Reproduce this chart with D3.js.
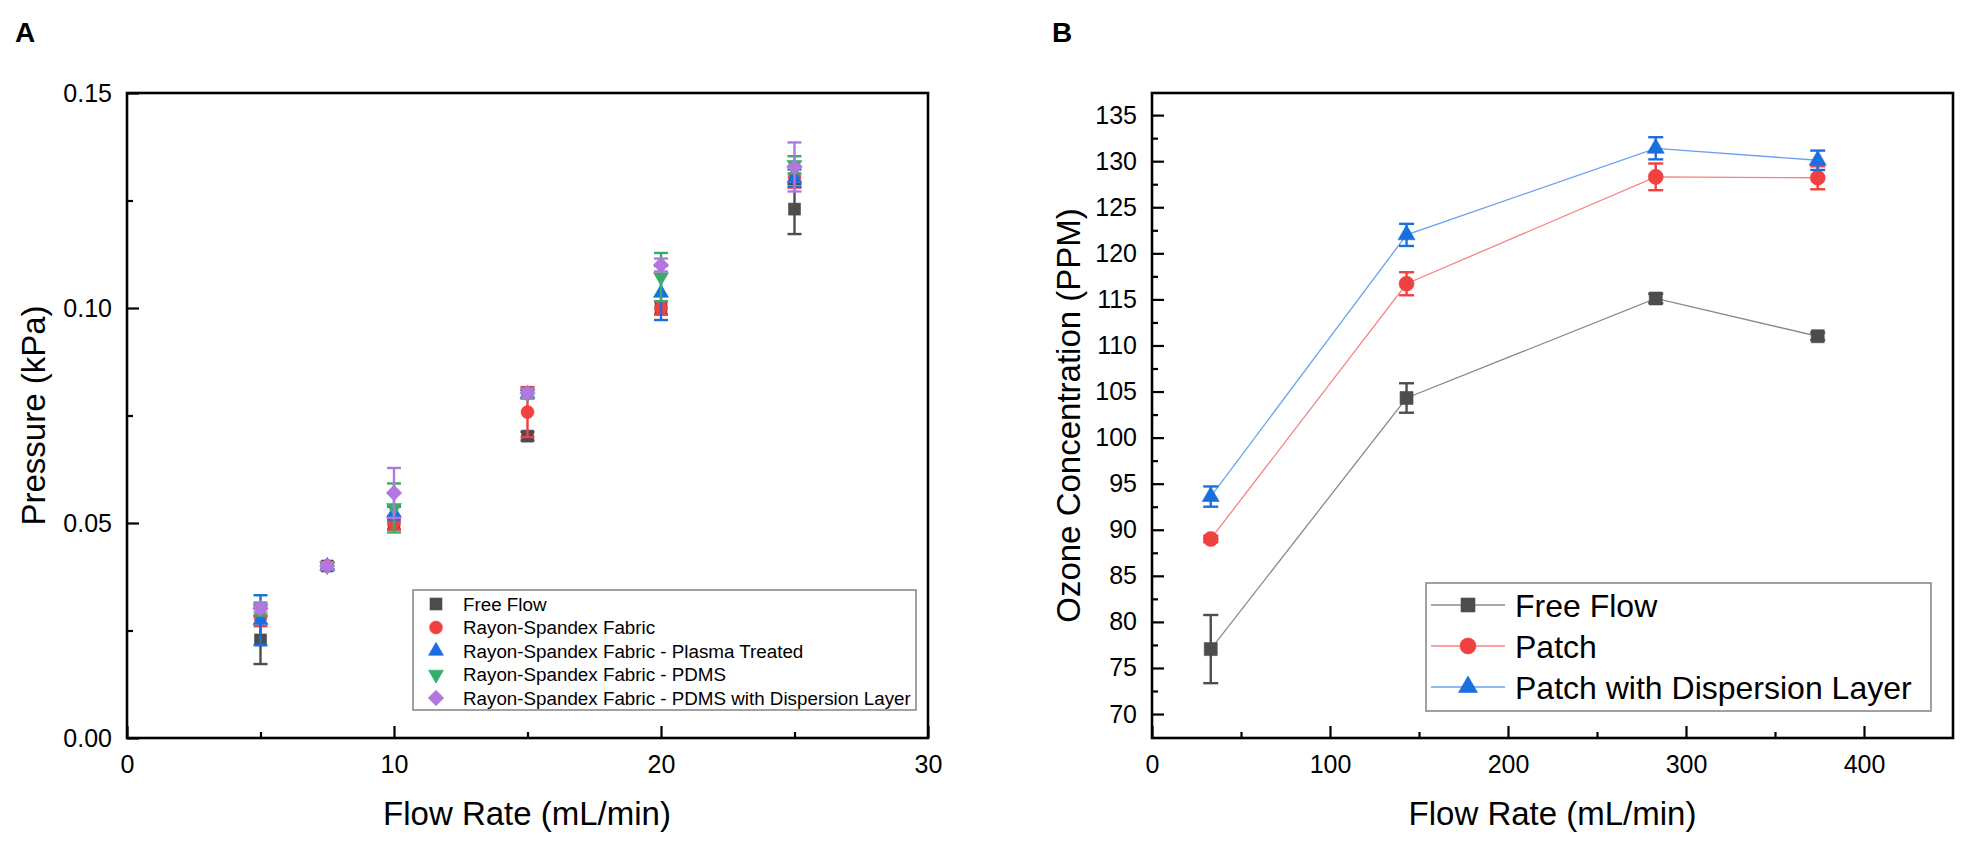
<!DOCTYPE html>
<html><head><meta charset="utf-8">
<script src="https://cdn.jsdelivr.net/npm/d3@7/dist/d3.min.js"></script>
<style>
body{margin:0;background:#fff}
svg{display:block;background:#fff}
text{font-family:"Liberation Sans",Arial,Helvetica,sans-serif;fill:#000}
</style>
</head><body>
<svg id="c" width="1971" height="851"></svg>
<script>
// ---------- Panel A data ----------
const flowA = [5, 7.5, 10, 15, 20, 25];
const namesA = ["Free Flow", "Rayon-Spandex Fabric", "Rayon-Spandex Fabric - Plasma Treated",
  "Rayon-Spandex Fabric - PDMS", "Rayon-Spandex Fabric - PDMS with Dispersion Layer"];
const freeFlowA    = [0.0228, 0.0400, 0.0500, 0.0702, 0.1000, 0.1230];
const freeFlowErrA = [0.0056, 0.0008, 0.0015, 0.0010, 0.0015, 0.0058];
const fabricA      = [0.0280, 0.0400, 0.0500, 0.0758, 0.1000, 0.1305];
const fabricErrA   = [0.0020, 0.0008, 0.0015, 0.0058, 0.0015, 0.0025];
const plasmaA      = [0.0274, 0.0400, 0.0523, 0.0800, 0.1035, 0.1302];
const plasmaErrA   = [0.0058, 0.0008, 0.0015, 0.0010, 0.0063, 0.0020];
const pdmsA        = [0.0300, 0.0400, 0.0535, 0.0800, 0.1072, 0.1333];
const pdmsErrA     = [0.0015, 0.0008, 0.0057, 0.0010, 0.0056, 0.0020];
const dispA        = [0.0302, 0.0400, 0.0570, 0.0802, 0.1100, 0.1328];
const dispErrA     = [0.0010, 0.0008, 0.0058, 0.0010, 0.0015, 0.0057];
const xTicksA = [0, 10, 20, 30];
const xMinorA = [5, 15, 25];
const yTicksA = [0, 0.05, 0.10, 0.15];
const yMinorA = [0.025, 0.075, 0.125];

// ---------- Panel B data ----------
const flowB = [33, 143, 283, 374];
const namesB = ["Free Flow", "Patch", "Patch with Dispersion Layer"];
const freeFlowB    = [77.05, 104.3, 115.1, 111.0];
const freeFlowErrB = [3.7, 1.6, 0.5, 0.4];
const patchB       = [89.0, 116.7, 128.3, 128.2];
const patchErrB    = [0.35, 1.25, 1.45, 1.25];
const dispB        = [93.6, 122.0, 131.4, 130.1];
const dispErrB     = [1.1, 1.2, 1.2, 1.05];
const xTicksB = [0, 100, 200, 300, 400];
const xMinorB = [50, 150, 250, 350];
const yTicksB = [70, 75, 80, 85, 90, 95, 100, 105, 110, 115, 120, 125, 130, 135];
const yMinorB = [72.5, 77.5, 82.5, 87.5, 92.5, 97.5, 102.5, 107.5, 112.5, 117.5, 122.5, 127.5, 132.5];

// ---------- styling ----------
const C_GREY = "#4d4d4d", C_RED = "#F14040", C_BLUE = "#1A6FDF", C_GREEN = "#37AD6B", C_PURPLE = "#B177DE";
const svg = d3.select("#c");

function markerPath(shape, s) {
  if (shape === "square") return d3.symbol(d3.symbolSquare, s * s)();
  if (shape === "circle") return d3.symbol(d3.symbolCircle, Math.PI * s * s / 4)();
  if (shape === "triUp" || shape === "triDown") return d3.symbol(d3.symbolTriangle, s * s * Math.sqrt(3) / 4)();
  if (shape === "diamond") return d3.symbol(d3.symbolSquare, s * s)();
}
function drawMarker(g, shape, s, color, x, y) {
  let rot = shape === "triDown" ? 180 : shape === "diamond" ? 45 : 0;
  g.append("path").attr("d", markerPath(shape, s))
    .attr("transform", `translate(${x},${y}) rotate(${rot})`)
    .attr("fill", color).attr("stroke", color).attr("stroke-width", 0.6);
}

function drawAxes(g, x, y, xt, xm, yt, ym, xfmt, yfmt, w, h) {
  const ax = g.append("g").attr("transform", `translate(0,${h})`)
    .call(d3.axisBottom(x).tickValues(xt).tickSize(-12).tickSizeOuter(0).tickPadding(17).tickFormat(xfmt));
  const axm = g.append("g").attr("transform", `translate(0,${h})`)
    .call(d3.axisBottom(x).tickValues(xm).tickSize(-6).tickSizeOuter(0).tickFormat(""));
  const ay = g.append("g")
    .call(d3.axisLeft(y).tickValues(yt).tickSize(-12).tickSizeOuter(0).tickPadding(15).tickFormat(yfmt));
  const aym = g.append("g")
    .call(d3.axisLeft(y).tickValues(ym).tickSize(-6).tickSizeOuter(0).tickFormat(""));
  [ax, axm, ay, aym].forEach(a => {
    a.select(".domain").remove();
    a.selectAll("line").attr("stroke", "#000").attr("stroke-width", 2.2);
    a.selectAll("text").attr("font-size", 25).attr("font-family", "'Liberation Sans',Arial,sans-serif").attr("fill", "#000");
  });
  g.append("rect").attr("x", 0).attr("y", 0).attr("width", w).attr("height", h)
    .attr("fill", "none").attr("stroke", "#000").attr("stroke-width", 2.6);
}

function errBars(g, xs, ys, es, x, y, color, cap) {
  xs.forEach((xv, i) => {
    const px = x(xv), y1 = y(ys[i] - es[i]), y2 = y(ys[i] + es[i]);
    g.append("line").attr("x1", px).attr("x2", px).attr("y1", y1).attr("y2", y2)
      .attr("stroke", color).attr("stroke-width", 2.4);
    [y1, y2].forEach(yy => g.append("line").attr("x1", px - cap / 2).attr("x2", px + cap / 2)
      .attr("y1", yy).attr("y2", yy).attr("stroke", color).attr("stroke-width", 2.4));
  });
}

// ================= Panel A =================
{
  const L = 127, T = 93, W = 801, H = 645;
  const g = svg.append("g").attr("transform", `translate(${L},${T})`);
  const x = d3.scaleLinear().domain([0, 30]).range([0, W]);
  const y = d3.scaleLinear().domain([0, 0.15]).range([H, 0]);
  const series = [
    {v: freeFlowA, e: freeFlowErrA, c: C_GREY, shape: "square", s: 12},
    {v: fabricA, e: fabricErrA, c: C_RED, shape: "circle", s: 13},
    {v: plasmaA, e: plasmaErrA, c: C_BLUE, shape: "triUp", s: 15},
    {v: pdmsA, e: pdmsErrA, c: C_GREEN, shape: "triDown", s: 15},
    {v: dispA, e: dispErrA, c: C_PURPLE, shape: "diamond", s: 11}
  ];
  series.forEach(sr => {
    const sg = g.append("g");
    flowA.forEach((xv, i) => drawMarker(sg, sr.shape, sr.s, sr.c, x(xv), y(sr.v[i])));
    errBars(sg, flowA, sr.v, sr.e, x, y, sr.c, 14);
  });
  drawAxes(g, x, y, xTicksA, xMinorA, yTicksA, yMinorA, d3.format("d"), d3.format(".2f"), W, H);

  // legend
  const lg = svg.append("g");
  lg.append("rect").attr("x", 413).attr("y", 590).attr("width", 503).attr("height", 120)
    .attr("fill", "#fff").attr("stroke", "#8a8a8a").attr("stroke-width", 1.6);
  series.forEach((sr, i) => {
    const cy = 604 + i * 23.5;
    drawMarker(lg, sr.shape, sr.s, sr.c, 436, cy);
    lg.append("text").attr("x", 463).attr("y", cy + 6.5).attr("font-size", 18.8).text(namesA[i]);
  });

  svg.append("text").attr("x", 527).attr("y", 825).attr("text-anchor", "middle")
    .attr("font-size", 33).text("Flow Rate (mL/min)");
  svg.append("text").attr("transform", `translate(45,${T + H / 2}) rotate(-90)`).attr("text-anchor", "middle")
    .attr("font-size", 33).text("Pressure (kPa)");
  svg.append("text").attr("x", 15).attr("y", 42).attr("font-size", 28).attr("font-weight", "bold").text("A");
}

// ================= Panel B =================
{
  const L = 1152, T = 93, W = 801, H = 645;
  const g = svg.append("g").attr("transform", `translate(${L},${T})`);
  const x = d3.scaleLinear().domain([0, 450]).range([0, W]);
  const y = d3.scaleLinear().domain([67.4, 137.4]).range([H, 0]);
  const series = [
    {v: freeFlowB, e: freeFlowErrB, c: C_GREY, shape: "square", s: 13},
    {v: patchB, e: patchErrB, c: C_RED, shape: "circle", s: 15},
    {v: dispB, e: dispErrB, c: C_BLUE, shape: "triUp", s: 17}
  ];
  const line = d3.line().x((d, i) => x(flowB[i])).y(d => y(d));
  series.forEach(sr => {
    g.append("path").attr("d", line(sr.v)).attr("fill", "none")
      .attr("stroke", sr.c).attr("stroke-opacity", 0.65).attr("stroke-width", 1.3);
  });
  series.forEach(sr => {
    const sg = g.append("g");
    flowB.forEach((xv, i) => drawMarker(sg, sr.shape, sr.s, sr.c, x(xv), y(sr.v[i])));
    errBars(sg, flowB, sr.v, sr.e, x, y, sr.c, 15);
  });
  drawAxes(g, x, y, xTicksB, xMinorB, yTicksB, yMinorB, d3.format("d"), d3.format("d"), W, H);

  const lg = svg.append("g");
  lg.append("rect").attr("x", 1426).attr("y", 583).attr("width", 505).attr("height", 128)
    .attr("fill", "#fff").attr("stroke", "#8a8a8a").attr("stroke-width", 1.6);
  const lsz = [14, 16, 19];
  series.forEach((sr, i) => {
    const cy = 605 + i * 41;
    lg.append("line").attr("x1", 1431).attr("x2", 1505).attr("y1", cy).attr("y2", cy)
      .attr("stroke", sr.c).attr("stroke-opacity", 0.65).attr("stroke-width", 1.3);
    drawMarker(lg, sr.shape, lsz[i], sr.c, 1468, cy);
    lg.append("text").attr("x", 1515).attr("y", cy + 11.5).attr("font-size", 32).text(namesB[i]);
  });

  svg.append("text").attr("x", L + W / 2).attr("y", 825).attr("text-anchor", "middle")
    .attr("font-size", 33).text("Flow Rate (mL/min)");
  svg.append("text").attr("transform", `translate(1080,${T + H / 2}) rotate(-90)`).attr("text-anchor", "middle")
    .attr("font-size", 33).text("Ozone Concentration (PPM)");
  svg.append("text").attr("x", 1052).attr("y", 42).attr("font-size", 28).attr("font-weight", "bold").text("B");
}
</script>
</body></html>
